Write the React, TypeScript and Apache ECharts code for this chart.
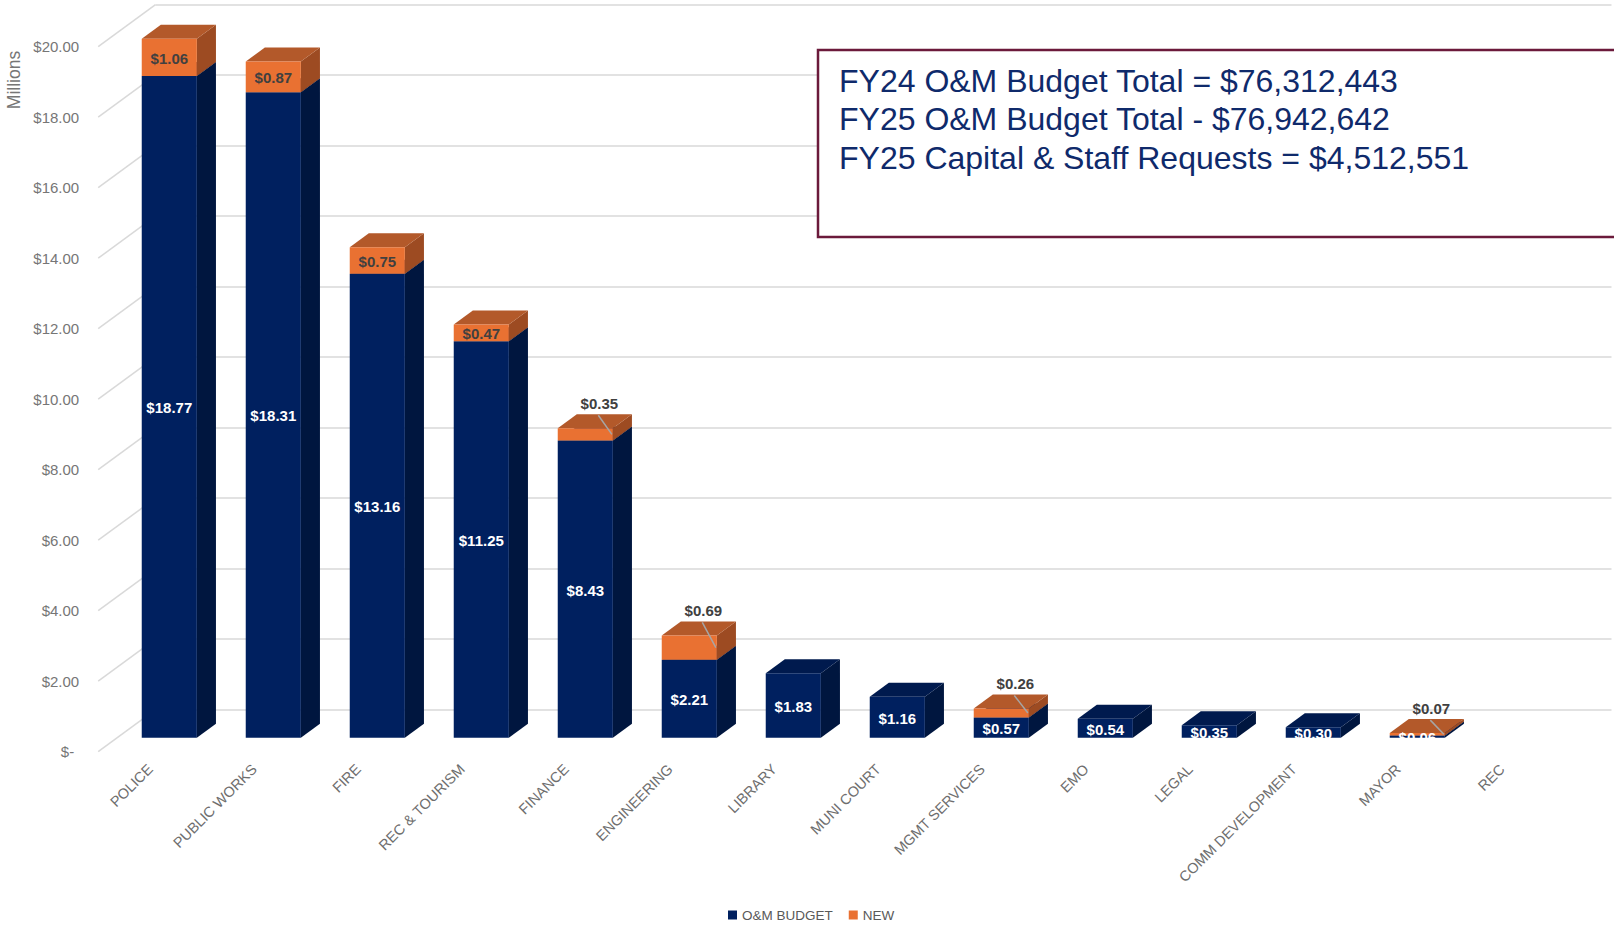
import React, { useEffect, useRef } from "react";
import * as echarts from "echarts";

const CATEGORIES = [
  "POLICE",
  "PUBLIC WORKS",
  "FIRE",
  "REC & TOURISM",
  "FINANCE",
  "ENGINEERING",
  "LIBRARY",
  "MUNI COURT",
  "MGMT SERVICES",
  "EMO",
  "LEGAL",
  "COMM DEVELOPMENT",
  "MAYOR",
  "REC",
];
const OM_BUDGET = [18.77, 18.31, 13.16, 11.25, 8.43, 2.21, 1.83, 1.16, 0.57, 0.54, 0.35, 0.3, 0.06, 0];
const NEW_REQ = [1.06, 0.87, 0.75, 0.47, 0.35, 0.69, 0, 0, 0.26, 0, 0, 0, 0.07, 0];
const Y_TICKS = [0, 2, 4, 6, 8, 10, 12, 14, 16, 18, 20];
const SUMMARY_LINES = [
  "FY24 O&M Budget Total = $76,312,443",
  "FY25 O&M Budget Total - $76,942,642",
  "FY25 Capital & Staff Requests = $4,512,551",
];
const SERIES_NAMES = ["O&M BUDGET", "NEW"];

const FONT = "'Liberation Sans', Arial, sans-serif";
const DX = 19.1;
const DY = -14;
const GRID_W = 1456;
const GRID_H = 705;
const BAR_LEFT = 117.3;
const BAR_TOP = 32.7;

const NAVY = { front: "#00205F", top: "#001A4E", side: "#00163F" };
const ORANGE = { front: "#E97132", top: "#B3592A", side: "#9D4B22" };

const fmt = (v: number) => "$" + v.toFixed(2);

function boxRenderer(colors: { front: string; top: string; side: string }) {
  return (params: any, api: any) => {
    const i = api.value(0);
    const lo = api.value(1);
    const hi = api.value(2);
    if (!(hi > lo)) return null;
    const band = api.size([1, 0])[0];
    const bw = band * 0.53;
    const pb = api.coord([i, lo]);
    const pt = api.coord([i, hi]);
    const xl = pb[0] - bw / 2;
    const xr = pb[0] + bw / 2;
    const yb = pb[1];
    const yt = pt[1];
    return {
      type: "group",
      children: [
        {
          type: "polygon",
          shape: { points: [[xr, yb], [xr, yt], [xr + DX, yt + DY], [xr + DX, yb + DY]] },
          style: { fill: colors.side },
        },
        {
          type: "polygon",
          shape: { points: [[xl, yt], [xr, yt], [xr + DX, yt + DY], [xl + DX, yt + DY]] },
          style: { fill: colors.top },
        },
        {
          type: "rect",
          shape: { x: xl, y: yt, width: bw, height: yb - yt },
          style: { fill: colors.front },
        },
      ],
    };
  };
}

function labelRenderer(params: any, api: any) {
  const i = api.value(0);
  const om = api.value(1);
  const nw = api.value(2);
  const band = api.size([1, 0])[0];
  const bw = band * 0.53;
  const children: any[] = [];
  if (om > 0) {
    const pb = api.coord([i, 0]);
    const pt = api.coord([i, om]);
    children.push({
      type: "text",
      x: pb[0],
      y: (pb[1] + pt[1]) / 2 + 1,
      style: {
        text: fmt(om),
        fill: "#FFFFFF",
        fontSize: 15,
        fontWeight: "bold",
        fontFamily: FONT,
        align: "center",
        verticalAlign: "middle",
      },
    });
  }
  if (nw > 0) {
    const p0 = api.coord([i, om]);
    const p1 = api.coord([i, om + nw]);
    if (om >= 10) {
      children.push({
        type: "text",
        x: p1[0],
        y: (p0[1] + p1[1]) / 2 + 1,
        style: {
          text: fmt(nw),
          fill: "#404040",
          fontSize: 15,
          fontWeight: "bold",
          fontFamily: FONT,
          align: "center",
          verticalAlign: "middle",
        },
      });
    } else {
      const lx = p1[0] + 14;
      const ly = p1[1] - 25;
      children.push({
        type: "line",
        shape: { x1: lx - 1, y1: ly + 12, x2: p1[0] + bw / 2 - 1, y2: (p0[1] + p1[1]) / 2 },
        style: { stroke: "#A6A6A6", lineWidth: 1.5 },
      });
      children.push({
        type: "text",
        x: lx,
        y: ly,
        style: {
          text: fmt(nw),
          fill: "#404040",
          fontSize: 15,
          fontWeight: "bold",
          fontFamily: FONT,
          align: "center",
          verticalAlign: "middle",
        },
      });
    }
  }
  return { type: "group", children };
}

function sideWallRenderer(params: any, api: any) {
  const v = api.value(1);
  const p = api.coord([0, v]);
  const x0 = params.coordSys.x;
  return {
    type: "line",
    shape: { x1: x0, y1: p[1], x2: x0 + 3 * DX, y2: p[1] + 3 * DY },
    style: { stroke: "#D9D9D9", lineWidth: 1.5 },
  };
}

export default function App() {
  const ref = useRef<HTMLDivElement>(null);

  useEffect(() => {
    if (!ref.current) return;
    const chart = echarts.init(ref.current, undefined, { renderer: "svg" });

    const omData = CATEGORIES.map((_, i) => [i, 0, OM_BUDGET[i]]);
    const newData = CATEGORIES.map((_, i) => [i, OM_BUDGET[i], OM_BUDGET[i] + NEW_REQ[i]]);
    const labelData = CATEGORIES.map((_, i) => [i, OM_BUDGET[i], NEW_REQ[i]]);
    const wallData = Y_TICKS.map((v) => [0, v]);

    const valueAxisBase = { type: "value", min: 0, max: 20, interval: 2 };

    const option: any = {
      animation: false,
      backgroundColor: "#FFFFFF",
      textStyle: { fontFamily: FONT },
      legend: {
        data: SERIES_NAMES.map((n) => ({ name: n, icon: "rect" })),
        left: 723,
        top: 903,
        itemWidth: 9,
        itemHeight: 9,
        itemGap: 16,
        textStyle: { color: "#595959", fontSize: 13.5, fontFamily: FONT },
      },
      grid: [
        { left: BAR_LEFT, top: BAR_TOP, width: GRID_W, height: GRID_H },
        { left: BAR_LEFT - DX, top: BAR_TOP - DY, width: GRID_W, height: GRID_H },
        { left: BAR_LEFT + 2 * DX, top: BAR_TOP + 2 * DY, width: GRID_W, height: GRID_H },
      ],
      xAxis: [
        { type: "category", gridIndex: 0, data: CATEGORIES, show: false },
        {
          type: "category",
          gridIndex: 1,
          data: CATEGORIES,
          axisLine: { show: false },
          axisTick: { show: false },
          axisLabel: {
            interval: 0,
            rotate: 45,
            margin: 15,
            color: "#6E6E6E",
            fontSize: 14.5,
            fontFamily: FONT,
          },
        },
        { type: "category", gridIndex: 2, data: CATEGORIES, show: false },
      ],
      yAxis: [
        { ...valueAxisBase, gridIndex: 0, show: false },
        {
          ...valueAxisBase,
          gridIndex: 1,
          axisLine: { show: false },
          axisTick: { show: false },
          splitLine: { show: false },
          axisLabel: {
            margin: 19,
            color: "#767676",
            fontSize: 15,
            fontFamily: FONT,
            formatter: (v: number) => (v === 0 ? "{z|$-}" : fmt(v)),
            rich: { z: { padding: [0, 5, 0, 0], color: "#767676", fontSize: 15, fontFamily: FONT } },
          },
        },
        {
          ...valueAxisBase,
          gridIndex: 2,
          axisLine: { show: false },
          axisTick: { show: false },
          axisLabel: { show: false },
          splitLine: { show: true, lineStyle: { color: "#D9D9D9", width: 1.5 } },
        },
      ],
      series: [
        {
          type: "custom",
          name: "sidewall",
          xAxisIndex: 1,
          yAxisIndex: 1,
          data: wallData,
          renderItem: sideWallRenderer,
          silent: true,
          z: 1,
        },
        {
          type: "custom",
          name: SERIES_NAMES[0],
          xAxisIndex: 0,
          yAxisIndex: 0,
          data: omData,
          itemStyle: { color: NAVY.front },
          renderItem: boxRenderer(NAVY),
          z: 3,
        },
        {
          type: "custom",
          name: SERIES_NAMES[1],
          xAxisIndex: 0,
          yAxisIndex: 0,
          data: newData,
          itemStyle: { color: ORANGE.front },
          renderItem: boxRenderer(ORANGE),
          z: 4,
        },
        {
          type: "custom",
          name: "labels",
          xAxisIndex: 0,
          yAxisIndex: 0,
          data: labelData,
          renderItem: labelRenderer,
          silent: true,
          z: 5,
        },
      ],
      graphic: [
        {
          type: "text",
          x: 14,
          y: 80,
          rotation: Math.PI / 2,
          style: {
            text: "Millions",
            fill: "#767676",
            fontSize: 17.5,
            fontFamily: FONT,
            align: "center",
            verticalAlign: "middle",
          },
        },
        {
          type: "rect",
          z: 10,
          shape: { x: 818, y: 50, width: 830, height: 187 },
          style: { fill: "#FFFFFF", stroke: "#6B1A3B", lineWidth: 2.5 },
        },
        ...SUMMARY_LINES.map((t, k) => ({
          type: "text",
          z: 11,
          x: 839,
          y: 80.5 + k * 38.6,
          style: {
            text: t,
            fill: "#0F2A6B",
            fontSize: 32,
            fontFamily: FONT,
            align: "left",
            verticalAlign: "middle",
          },
        })),
      ],
    };

    chart.setOption(option);
    return () => chart.dispose();
  }, []);

  return (
    <div
      ref={ref}
      style={{ position: "fixed", left: 0, top: 0, width: 1614, height: 926, background: "#fff" }}
    />
  );
}
